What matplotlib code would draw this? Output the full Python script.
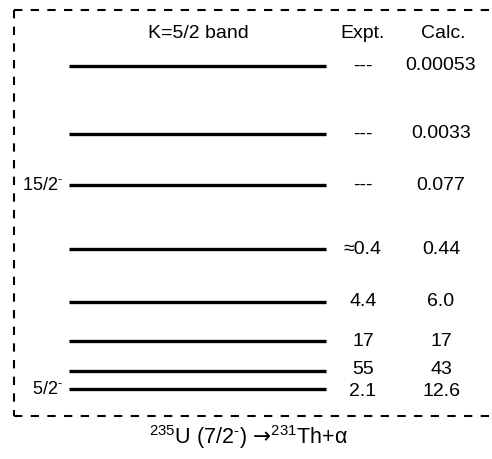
import matplotlib
matplotlib.use('Agg')
import matplotlib.pyplot as plt

plt.rcParams['font.family'] = ['Liberation Sans', 'DejaVu Sans']
plt.rcParams['mathtext.fontset'] = 'custom'
plt.rcParams['mathtext.rm'] = 'Liberation Sans'
plt.rcParams['mathtext.it'] = 'Liberation Sans'
plt.rcParams['mathtext.sf'] = 'DejaVu Sans'

# level positions (pixel rows in the reference) and the table next to them
level_y = [66, 134, 185, 249, 302, 341, 371, 389]
expt = ['---', '---', '---', '\u22480.4', '4.4', '17', '55', '2.1']
calc = ['0.00053', '0.0033', '0.077', '0.44', '6.0', '17', '43', '12.6']
text_y = [66, 134, 185, 249, 302, 341, 369, 392]
spin_labels = {185: '15/2', 389: '5/2'}

fig = plt.figure(figsize=(4.92, 4.59), dpi=100)
ax = fig.add_axes([0, 0, 1, 1])
ax.set_xlim(0, 492)
ax.set_ylim(459, 0)
ax.axis('off')

# dashed frame
ax.plot([14, 14], [10, 416], color='black', lw=1.5, ls=(0, (4, 4)))
ax.plot([14, 492], [10, 10], color='black', lw=1.5, ls=(0, (4, 4)))
ax.plot([14, 492], [416, 416], color='black', lw=1.5, ls=(0, (4, 4)))

for y in level_y:
    ax.plot([69, 326], [y, y], color='black', lw=2.4, solid_capstyle='butt')

fs = 14
for e, c, y in zip(expt, calc, text_y):
    ax.text(363, y, e, ha='center', va='center', fontsize=fs)
    ax.text(441, y, c, ha='center', va='center', fontsize=fs)

for y, lab in spin_labels.items():
    ax.text(63, y, lab + r'$^{\text{-}}$', ha='right', va='center', fontsize=13)

ax.text(198, 33, 'K=5/2 band', ha='center', va='center', fontsize=fs)
ax.text(363, 33, 'Expt.', ha='center', va='center', fontsize=fs)
ax.text(443, 33, 'Calc.', ha='center', va='center', fontsize=fs)

ax.text(248, 437, '$^{235}$U (7/2$^{\\text{-}}$) $\\mathsf{\u2192}^{231}$Th+α',
        ha='center', va='center', fontsize=15.5)

fig.savefig('out.png', dpi=100)
